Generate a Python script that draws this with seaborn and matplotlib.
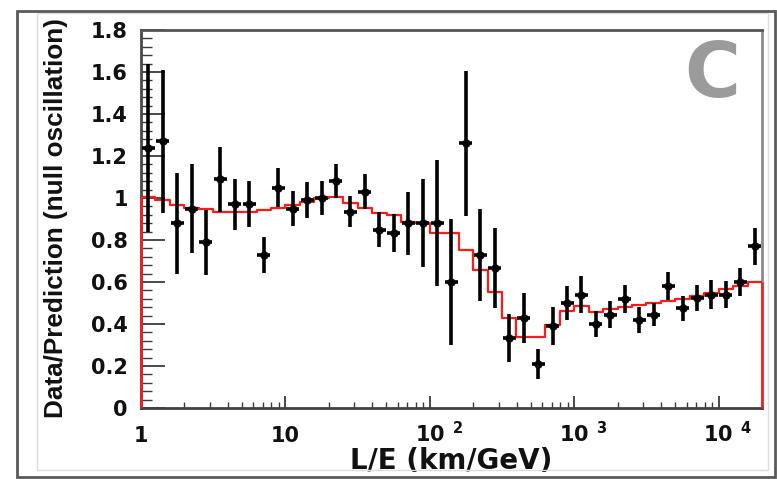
import numpy as np
import pandas as pd
import matplotlib
matplotlib.use("Agg")
import matplotlib.pyplot as plt
import matplotlib.ticker as mticker
import matplotlib.transforms as mtransforms
from matplotlib.patches import Rectangle
import seaborn as sns

# ---------------- data ----------------
log_le_min = 0.0   # log10(L/E) of first bin's lower edge
log_le_max = 4.3   # log10(L/E) of last bin's upper edge

ratio = [1.24, 1.27, 0.88, 0.95, 0.79, 1.09, 0.97, 0.97, 0.73, 1.05,
         0.95, 0.99, 1.00, 1.08, 0.935, 1.03, 0.85, 0.835, 0.88, 0.88,
         0.88, 0.60, 1.26, 0.73, 0.665, 0.335, 0.43, 0.21, 0.39, 0.50,
         0.54, 0.40, 0.445, 0.52, 0.42, 0.445, 0.58, 0.475, 0.525, 0.54,
         0.54, 0.60, 0.77]

ratio_err = [0.40, 0.34, 0.24, 0.21, 0.155, 0.155, 0.12, 0.11, 0.085, 0.095,
             0.085, 0.085, 0.08, 0.08, 0.075, 0.083, 0.083, 0.09, 0.15, 0.21,
             0.30, 0.30, 0.345, 0.22, 0.19, 0.115, 0.12, 0.073, 0.09, 0.083,
             0.087, 0.063, 0.063, 0.067, 0.062, 0.056, 0.067, 0.06, 0.063, 0.07,
             0.065, 0.067, 0.087]

prediction = [1.005, 0.99, 0.967, 0.951, 0.946, 0.935, 0.935, 0.935, 0.943, 0.951,
              0.967, 0.983, 0.998, 1.006, 0.975, 0.951, 0.93, 0.919, 0.887, 0.879,
              0.835, 0.835, 0.752, 0.657, 0.554, 0.43, 0.34, 0.34, 0.395, 0.462,
              0.486, 0.459, 0.47, 0.48, 0.49, 0.50, 0.51, 0.52, 0.535, 0.55,
              0.565, 0.58, 0.60]

y_ticks = [0, 0.2, 0.4, 0.6, 0.8, 1.0, 1.2, 1.4, 1.6, 1.8]
y_tick_labels = ["0", "0.2", "0.4", "0.6", "0.8", "1", "1.2", "1.4", "1.6", "1.8"]
x_ticks = [1, 10, 100, 1000, 10000]
x_tick_labels = ["1", "10", r"$\mathbf{10^{\;\;2}}$", r"$\mathbf{10^{\;\;3}}$",
                 r"$\mathbf{10^{\;\;4}}$"]
x_title = "L/E (km/GeV)"
y_title = "Data/Prediction (null oscillation)"
panel_label = "C"

# ---------------- derived tables ----------------
n_bins = len(ratio)
edges = np.logspace(log_le_min, log_le_max, n_bins + 1)
centers = np.sqrt(edges[:-1] * edges[1:])
half_w = 10 ** 0.045  # half-width of horizontal marker bar (log factor)

df = pd.DataFrame({"LE": centers, "ratio": ratio, "err": ratio_err})
df_pred = pd.DataFrame({"edge": edges, "pred": prediction + [prediction[-1]]})

# ---------------- style ----------------
sns.set_theme(style="white")
plt.rcParams["font.family"] = ["DejaVu Sans"]
plt.rcParams["font.weight"] = "bold"
plt.rcParams["mathtext.fontset"] = "dejavusans"

W, H = 777, 479
fig = plt.figure(figsize=(W / 100, H / 100), dpi=100)
ax = fig.add_axes([141 / W, 1 - 408 / H, (762 - 141) / W, (408 - 30) / H])
ax.set_xscale("log")

# prediction step histogram
sns.lineplot(data=df_pred, x="edge", y="pred", drawstyle="steps-post",
             color="#ff1a1a", linewidth=1.6, estimator=None, sort=False,
             ax=ax, zorder=3)
ax.vlines([edges[0], edges[-1]], 0, [prediction[0], prediction[-1]],
          color="#ff1a1a", linewidth=1.8, zorder=3, clip_on=False)

# data points with error bars
ax.errorbar(df["LE"], df["ratio"], yerr=df["err"],
            xerr=[df["LE"] - df["LE"] / half_w, df["LE"] * half_w - df["LE"]],
            fmt="none", ecolor="black", elinewidth=2.6, capsize=0, zorder=4)
sns.scatterplot(data=df, x="LE", y="ratio", color="black", marker="o", s=30,
                edgecolor="black", linewidth=0.5, zorder=5, ax=ax)

ax.set_xlim(edges[0], edges[-1])
ax.set_ylim(0, 1.8)

ax.set_xticks(x_ticks, x_tick_labels)
ax.xaxis.set_minor_locator(mticker.LogLocator(base=10, subs=np.arange(2, 10)))
ax.xaxis.set_minor_formatter(mticker.NullFormatter())
ax.set_yticks(y_ticks, y_tick_labels)
ax.yaxis.set_minor_locator(mticker.MultipleLocator(0.04))

tick_col = "#3a3a3a"
ax.tick_params(axis="y", which="major", direction="in", left=True, length=17,
               width=1.3, color=tick_col, pad=9.4, labelsize=15, labelcolor="#111111")
ax.tick_params(axis="y", which="minor", direction="in", left=True, length=8,
               width=1.0, color=tick_col)
ax.tick_params(axis="x", which="major", direction="in", bottom=True, length=9,
               width=1.3, color=tick_col, pad=24.5, labelsize=15, labelcolor="#111111")
ax.tick_params(axis="x", which="minor", direction="in", bottom=True, length=4.5,
               width=1.0, color=tick_col)

for t in ax.xaxis.get_major_ticks():
    t.label1.set_va("baseline")
shift = mtransforms.ScaledTranslation(6.5 / 72, 0, fig.dpi_scale_trans)
for lbl, txt in zip(ax.get_xticklabels(), x_tick_labels):
    if "^" in txt:
        lbl.set_transform(lbl.get_transform() + shift)

for side, col in [("left", "#4a4a4a"), ("bottom", "#404040"),
                  ("top", "#555555"), ("right", "#8a8a8a")]:
    ax.spines[side].set_visible(True)
    ax.spines[side].set_color(col)
    ax.spines[side].set_linewidth(2)

ax.set_xlabel(x_title, fontsize=20, fontweight="bold", color="#111111")
ax.xaxis.set_label_coords(0.5, -0.103)
ax.set_ylabel(y_title, fontsize=18.8, fontweight="bold", color="#111111",
              family=["Liberation Sans", "DejaVu Sans"])
ax.yaxis.set_label_coords(-0.117, 0.503)

fig.text(712 / W, 1 - 76 / H, panel_label, ha="center", va="center",
         fontsize=55, fontweight="bold", color="#9b9b9b")

# outer frames of the scanned panel
fig.add_artist(Rectangle((37 / W, 9 / H), 731 / W, 457 / H, transform=fig.transFigure,
                         fill=False, edgecolor="#dddddd", linewidth=1))
fig.add_artist(Rectangle((17 / W, 2 / H), 758 / W, 466 / H, transform=fig.transFigure,
                         fill=False, edgecolor="#5a5a5a", linewidth=2))

fig.savefig("out.png", dpi=100)
